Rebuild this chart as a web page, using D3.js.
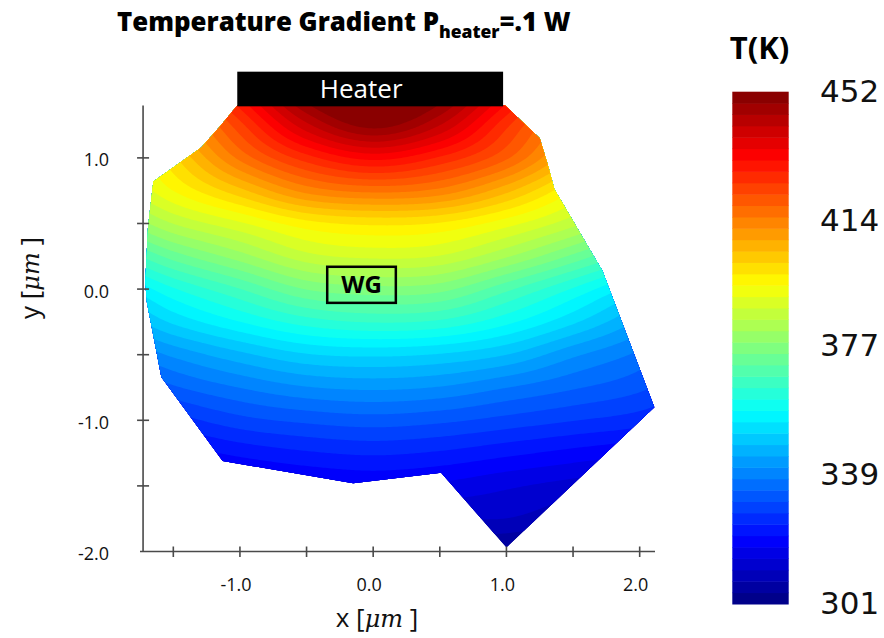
<!DOCTYPE html>
<html>
<head>
<meta charset="utf-8">
<script src="https://cdn.jsdelivr.net/npm/d3@7"></script>
<style>
  body { margin: 0; background: #fff; }
  svg { display: block; }
</style>
</head>
<body>
<svg id="chart" width="884" height="638"></svg>
<script>
// ---- Data -------------------------------------------------------------
// Sample grid of the simulated temperature field (K); x, y in µm.
const gridX = [-2, -1.5, -1, -0.5, 0, 0.5, 1, 1.5, 2, 2.5];
const gridY = [1.5, 1.25, 1.0, 0.75, 0.5, 0.25, 0, -0.25, -0.5, -0.75, -1.0, -1.25, -1.5, -1.75, -2.0];
const tempRows = [
  [402, 414, 432, 451, 458, 451, 434, 416, 404, 394],
  [396, 408, 424, 441, 450, 442, 426, 411, 400, 390],
  [388, 401, 416, 427, 433, 428, 419, 405, 393, 383],
  [385, 395, 404, 413, 416, 414, 406, 395, 384, 374],
  [376, 385, 391, 397, 399, 398, 393, 386, 377, 368],
  [364, 373, 380, 387, 389, 388, 382, 374, 365, 356],
  [352, 361, 368, 375, 377, 376, 369, 361, 352, 343],
  [344, 352, 358, 363, 365, 364, 359, 352, 344, 336],
  [336, 342, 347, 351, 352, 351, 348, 342, 337, 330],
  [328, 334, 338, 341, 342, 341, 338, 335, 332, 327],
  [321, 326, 330, 332, 333, 332, 330, 328, 326, 322],
  [316, 319, 322, 324, 325, 324, 322, 320, 318, 315],
  [311, 313, 315, 317, 318, 317, 315, 313, 311, 309],
  [306, 307, 309, 311, 312, 311, 311, 308, 305, 304],
  [301, 302, 303, 305, 306, 305, 304, 302, 301, 301]
];

// Outline of the simulated cross-section (µm)
const domainOutline = [
  [-1.02, 1.40], [-1.15, 1.24], [-1.29, 1.08], [-1.65, 0.82], [-1.69, 0.47],
  [-1.71, 0.06], [-1.70, -0.09], [-1.59, -0.67], [-1.13, -1.31], [-0.15, -1.48],
  [0.51, -1.40], [1.00, -1.97], [2.11, -0.90], [1.72, 0.14], [1.36, 0.76],
  [1.31, 0.95], [1.25, 1.15], [0.99, 1.40]
];

// Heater strip and waveguide box (µm)
const heaterX = [-1.02, 0.975];
const heaterY = [1.393, 1.657];
const wgX = [-0.345, 0.17];
const wgY = [-0.105, 0.17];

// Axis ticks
const xTicks = [-1.5, -1.0, -0.5, 0, 0.5, 1.0, 1.5, 2.0];
const xTickLabels = [-1.0, 0.0, 1.0, 2.0];
const yTicks = [-1.5, -1.0, -0.5, 0, 0.5, 1.0];
const yTickLabels = [1.0, 0.0, -1.0, -2.0];

// Colour bar
const tMin = 301, tMax = 452, nBands = 45;
const cbarLabels = [452, 414, 377, 339, 301];
const jetColors = ["#00007f", "#0000ff", "#007fff", "#00ffff", "#7fff7f",
                   "#ffff00", "#ff7f00", "#ff0000", "#7f0000"];

// ---- Scales -----------------------------------------------------------
const svg = d3.select("#chart");
const x = d3.scaleLinear().domain([-1.75, 2.115]).range([140, 655]);
const y = d3.scaleLinear().domain([-2, 1.4]).range([551.5, 105.4]);

const jet = d3.scaleLinear()
  .domain(jetColors.map((_, i) => tMin + i * (tMax - tMin) / (jetColors.length - 1)))
  .range(jetColors)
  .interpolate(d3.interpolateRgb)
  .clamp(true);

const bandEdges = d3.range(nBands + 1).map(i => tMin + i * (tMax - tMin) / nBands);
const bandColor = k => jet((bandEdges[k] + bandEdges[k + 1]) / 2);

// ---- Smooth field from the sample grid (Catmull-Rom) -----------------
const dxG = gridX[1] - gridX[0];
const dyG = gridY[0] - gridY[1];
function cr(p0, p1, p2, p3, t) {
  return 0.5 * (2 * p1 + (-p0 + p2) * t + (2 * p0 - 5 * p1 + 4 * p2 - p3) * t * t +
    (-p0 + 3 * p1 - 3 * p2 + p3) * t * t * t);
}
function field(xv, yv) {
  const fx = (xv - gridX[0]) / dxG, fy = (gridY[0] - yv) / dyG;
  const ix = Math.floor(fx), iy = Math.floor(fy);
  const tx = fx - ix, ty = fy - iy;
  const cx = i => Math.max(0, Math.min(gridX.length - 1, i));
  const cy = j => Math.max(0, Math.min(gridY.length - 1, j));
  const rowVals = [];
  for (let j = -1; j <= 2; j++) {
    const r = tempRows[cy(iy + j)];
    rowVals.push(cr(r[cx(ix - 1)], r[cx(ix)], r[cx(ix + 1)], r[cx(ix + 2)], tx));
  }
  return cr(rowVals[0], rowVals[1], rowVals[2], rowVals[3], ty);
}

const step = 0.015;
const x0 = -1.8, y0 = 1.45;
const nx = Math.round((2.2 - x0) / step) + 1;
const ny = Math.round((y0 + 2.05) / step) + 1;
const values = new Array(nx * ny);
for (let j = 0; j < ny; j++)
  for (let i = 0; i < nx; i++)
    values[j * nx + i] = field(x0 + i * step, y0 - j * step);

const contours = d3.contours().size([nx, ny])
  .thresholds(bandEdges.slice(1, nBands))(values);

const toScreen = d3.geoTransform({
  point(gx, gy) {
    this.stream.point(x(x0 + (gx - 0.5) * step), y(y0 - (gy - 0.5) * step));
  }
});
const gridPath = d3.geoPath(toScreen);

// ---- Temperature map clipped to the cross-section --------------------
const outlineLine = d3.line().x(d => x(d[0])).y(d => y(d[1])).curve(d3.curveLinearClosed);

svg.append("defs").append("clipPath").attr("id", "mesh")
  .append("path").attr("d", outlineLine(domainOutline));

const map = svg.append("g").attr("clip-path", "url(#mesh)");
map.append("path").attr("d", outlineLine(domainOutline)).attr("fill", bandColor(0));
map.selectAll("path.band")
  .data(contours)
  .join("path")
  .attr("class", "band")
  .attr("d", gridPath)
  .attr("fill", (d, i) => bandColor(i + 1));

// ---- Axes -------------------------------------------------------------
const axisColor = "#4a4a4a";
const axes = svg.append("g").attr("stroke", axisColor).attr("stroke-width", 1.6);
const yAxisX = x(-1.727);
axes.append("line").attr("x1", x(-1.75)).attr("x2", x(2.115))
  .attr("y1", y(-2)).attr("y2", y(-2));
axes.append("line").attr("x1", yAxisX).attr("x2", yAxisX)
  .attr("y1", y(-2)).attr("y2", y(1.4));
axes.selectAll("line.xt").data(xTicks).join("line").attr("class", "xt")
  .attr("x1", d => x(d)).attr("x2", d => x(d))
  .attr("y1", y(-2) - 5).attr("y2", y(-2) + 5.5);
axes.selectAll("line.yt").data(yTicks).join("line").attr("class", "yt")
  .attr("y1", d => y(d)).attr("y2", d => y(d))
  .attr("x1", yAxisX - 6).attr("x2", yAxisX + 6);

const labelFont = "'Open Sans', 'Liberation Sans', sans-serif";
svg.append("g").selectAll("text").data(xTickLabels).join("text")
  .attr("x", d => x(d) - 4).attr("y", 591)
  .attr("text-anchor", "middle")
  .attr("font-family", labelFont).attr("font-size", 18).attr("fill", "#111")
  .text(d => d.toFixed(1));

svg.append("g").selectAll("text").data(yTickLabels).join("text")
  .attr("x", 109).attr("y", d => y(d) + 2)
  .attr("dy", "0.36em")
  .attr("text-anchor", "end")
  .attr("font-family", labelFont).attr("font-size", 18).attr("fill", "#111")
  .text(d => d.toFixed(1));

// Axis titles: x [µm ], y [µm ]
function axisTitle(sel, letter) {
  sel.attr("font-family", labelFont).attr("font-size", 26).attr("fill", "#111");
  sel.append("tspan").text(letter + " [");
  sel.append("tspan").attr("font-family", "'DejaVu Serif', 'Liberation Serif', serif")
    .attr("font-style", "italic").attr("font-size", 24).text("μm");
  sel.append("tspan").text(" ]");
}
axisTitle(svg.append("text").attr("x", 377).attr("y", 627).attr("text-anchor", "middle"), "x");
axisTitle(svg.append("text").attr("transform", "translate(39,278) rotate(-90)")
  .attr("text-anchor", "middle"), "y");

// ---- Heater and waveguide annotations --------------------------------
svg.append("rect")
  .attr("x", x(heaterX[0])).attr("width", x(heaterX[1]) - x(heaterX[0]))
  .attr("y", y(heaterY[1])).attr("height", y(heaterY[0]) - y(heaterY[1]))
  .attr("fill", "#000");
svg.append("text")
  .attr("x", (x(heaterX[0]) + x(heaterX[1])) / 2 - 9).attr("y", 98)
  .attr("text-anchor", "middle")
  .attr("font-family", labelFont).attr("font-size", 26).attr("fill", "#fff")
  .text("Heater");

svg.append("rect")
  .attr("x", x(wgX[0])).attr("width", x(wgX[1]) - x(wgX[0]))
  .attr("y", y(wgY[1])).attr("height", y(wgY[0]) - y(wgY[1]))
  .attr("fill", "none").attr("stroke", "#000").attr("stroke-width", 2.5);
svg.append("text")
  .attr("x", (x(wgX[0]) + x(wgX[1])) / 2).attr("y", (y(wgY[0]) + y(wgY[1])) / 2)
  .attr("dy", "0.36em").attr("text-anchor", "middle")
  .attr("font-family", labelFont).attr("font-weight", 700).attr("font-size", 24)
  .attr("fill", "#000").text("WG");

// ---- Title --------------------------------------------------------------
const title = svg.append("text").attr("x", 117).attr("y", 31)
  .attr("font-family", labelFont).attr("font-weight", 800).attr("font-size", 25.8)
  .attr("fill", "#000");
title.append("tspan").text("Temperature Gradient P");
title.append("tspan").attr("font-size", 17.5).attr("dy", 7).text("heater");
title.append("tspan").attr("dy", -7).text("=.1 W");

// ---- Colour bar -------------------------------------------------------
const cb = d3.scaleLinear().domain([tMin, tMax]).range([604, 91.7]);
const cbX = 732.3, cbW = 56.4;
svg.append("g").selectAll("rect").data(d3.range(nBands)).join("rect")
  .attr("x", cbX).attr("width", cbW)
  .attr("y", k => cb(bandEdges[k + 1]))
  .attr("height", k => cb(bandEdges[k]) - cb(bandEdges[k + 1]) + 0.5)
  .attr("fill", k => bandColor(k));

svg.append("g").selectAll("text").data(cbarLabels).join("text")
  .attr("x", 820).attr("y", d => cb(d) - 1)
  .attr("dy", "0.36em")
  .attr("font-family", "'DejaVu Sans', sans-serif").attr("font-size", 31)
  .attr("fill", "#111")
  .text(d => d);

svg.append("text").attr("x", cbX + cbW / 2 - 1).attr("y", 59)
  .attr("text-anchor", "middle")
  .attr("font-family", labelFont).attr("font-weight", 700).attr("font-size", 31)
  .attr("fill", "#000").text("T(K)");
</script>
</body>
</html>
